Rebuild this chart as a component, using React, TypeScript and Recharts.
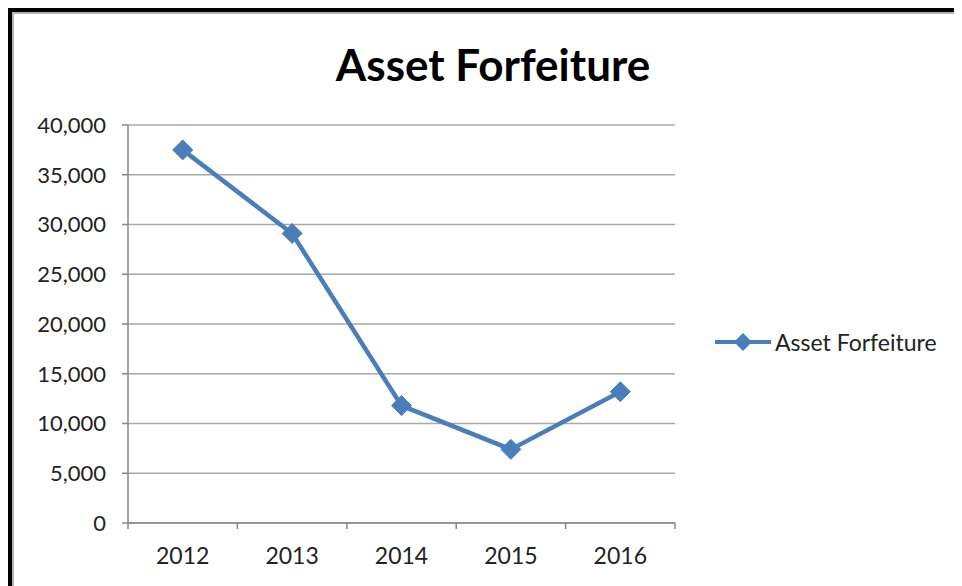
import { FC } from "react";
import {
  LineChart,
  Line,
  XAxis,
  YAxis,
  CartesianGrid,
} from "recharts";

// Asset forfeiture totals by year
const years = ["2012", "2013", "2014", "2015", "2016"];
const forfeitures = [37500, 29100, 11800, 7400, 13200];
const yTicks = [0, 5000, 10000, 15000, 20000, 25000, 30000, 35000, 40000];

const data = years.map((year, i) => ({ year, value: forfeitures[i] }));

const BLUE = "#4a7ebb";
const AXIS = "#878787";
const TEXT = "#222";
const FONT = "Lato, 'Open Sans', sans-serif";

const W = 962;
const H = 586;
const PLOT_LEFT = 128;
const PLOT_RIGHT = 675;
const PLOT_TOP = 125;
const PLOT_BOTTOM = 523;
const STEP = (PLOT_RIGHT - PLOT_LEFT) / years.length;

const Diamond = (props: any) => {
  const { cx, cy } = props;
  if (cx == null || cy == null) return null;
  const r = 10;
  return (
    <polygon
      points={`${cx},${cy - r} ${cx + r},${cy} ${cx},${cy + r} ${cx - r},${cy}`}
      fill={BLUE}
      stroke={BLUE}
      strokeWidth={1}
    />
  );
};

// category labels plus Excel-style tick marks between the categories
const YearTick = (props: any) => {
  const { x, y, payload, index } = props;
  const left = x - STEP / 2;
  const right = x + STEP / 2;
  return (
    <g>
      <line x1={left} x2={left} y1={y - 6} y2={y} stroke={AXIS} strokeWidth={1.5} />
      {index === years.length - 1 && (
        <line x1={right} x2={right} y1={y - 6} y2={y} stroke={AXIS} strokeWidth={1.5} />
      )}
      <text x={x} y={y + 35} textAnchor="middle" fill={TEXT} fontSize={23} fontFamily={FONT}>
        {payload.value}
      </text>
    </g>
  );
};

const App: FC = () => {
  return (
    <div style={{ position: "relative", width: W - 8, height: H - 8 }}>
      <div
        style={{
          position: "absolute",
          left: 0,
          top: 0,
          right: 0,
          bottom: 0,
          borderTop: "4px solid #000",
          borderLeft: "4px solid #000",
        }}
      >
        <div
          style={{
            position: "absolute",
            left: 0,
            top: 0,
            right: 0,
            bottom: 0,
            borderTop: "2px solid #b4b4b4",
            borderLeft: "2px solid #b4b4b4",
          }}
        />
      </div>
      <div
        style={{
          position: "absolute",
          left: 493 - 8 - 250,
          width: 500,
          top: 30,
          textAlign: "center",
          fontFamily: FONT,
          fontWeight: 700,
          fontSize: 44,
          lineHeight: "53px",
          color: "#000",
        }}
      >
        Asset Forfeiture
      </div>
      <div
        style={{
          position: "absolute",
          left: 713 - 8,
          top: 342 - 8 - 14,
          display: "flex",
          alignItems: "center",
          height: 28,
          fontFamily: FONT,
          fontSize: 23,
          color: TEXT,
          whiteSpace: "nowrap",
        }}
      >
        <svg width={60} height={22}>
          <line x1={2} x2={58} y1={11} y2={11} stroke={BLUE} strokeWidth={4} />
          <polygon points="30,2 39,11 30,20 21,11" fill={BLUE} />
        </svg>
        <span style={{ marginLeft: 2 }}>Asset Forfeiture</span>
      </div>
      <div style={{ position: "absolute", left: -8, top: -8 }}>
        <LineChart
          width={W}
          height={H}
          data={data}
          margin={{ top: PLOT_TOP, right: W - PLOT_RIGHT, left: 0, bottom: 0 }}
        >
          <CartesianGrid vertical={false} stroke="#a8a8a8" strokeWidth={1.5} />
          <XAxis
            dataKey="year"
            height={H - PLOT_BOTTOM}
            padding={{ left: STEP / 2, right: STEP / 2 }}
            stroke={AXIS}
            strokeWidth={1.5}
            tickLine={false}
            tickSize={6}
            tickMargin={0}
            interval={0}
            tick={<YearTick />}
          />
          <YAxis
            width={PLOT_LEFT}
            domain={[0, 40000]}
            ticks={yTicks}
            stroke={AXIS}
            strokeWidth={1.5}
            tickSize={6}
            tickMargin={16}
            tick={{ fill: TEXT, fontSize: 22, fontFamily: FONT }}
            tickFormatter={(v: number) => v.toLocaleString("en-US")}
          />
          <Line
            type="linear"
            dataKey="value"
            name="Asset Forfeiture"
            stroke={BLUE}
            strokeWidth={4.5}
            dot={<Diamond />}
            activeDot={false}
            isAnimationActive={false}
          />
        </LineChart>
      </div>
    </div>
  );
};

export default App;
